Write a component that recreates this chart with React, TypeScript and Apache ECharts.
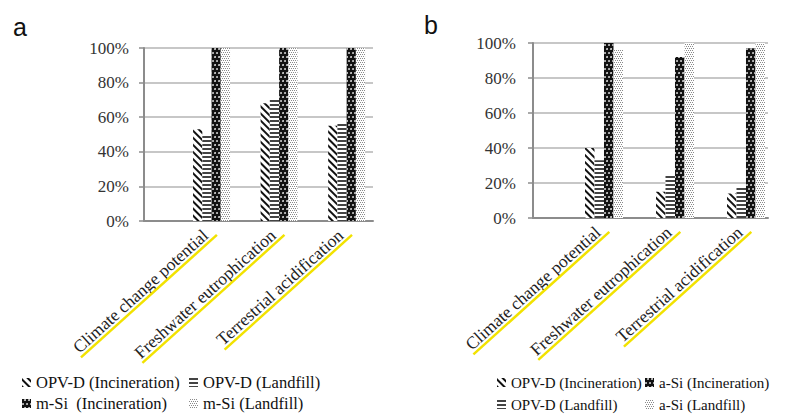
import React, { useEffect, useRef } from "react";
import * as echarts from "echarts";

const CATEGORIES = ["Climate change potential", "Freshwater eutrophication", "Terrestrial acidification"];
const Y_TICKS = [0, 20, 40, 60, 80, 100];

// Panel a (values in %)
const A_OPV_INC = [53, 68, 55];
const A_OPV_LAND = [50, 70, 56];
const A_MSI_INC = [100, 100, 100];
const A_MSI_LAND = [100, 100, 100];

// Panel b (values in %)
const B_OPV_INC = [40, 15, 14];
const B_OPV_LAND = [33, 25, 17.5];
const B_ASI_INC = [100, 92, 97];
const B_ASI_LAND = [96, 100, 100];

const N_OPV_INC = "OPV-D (Incineration)";
const N_OPV_LAND = "OPV-D (Landfill)";
const N_MSI_INC = "m-Si  (Incineration)";
const N_MSI_LAND = "m-Si (Landfill)";
const N_ASI_INC = "a-Si (Incineration)";
const N_ASI_LAND = "a-Si (Landfill)";

const SERIF = "Liberation Serif";
const LABEL_SIZE = 17.5;

const STYLE_DIAG = {
  color: "#ffffff",
  decal: { symbol: "rect", symbolSize: 1, color: "#111", backgroundColor: "#fff", dashArrayX: [1, 0], dashArrayY: [2, 2.5], rotation: Math.PI / 4 },
};
const STYLE_HORIZ = {
  color: "#ffffff",
  decal: { symbol: "rect", symbolSize: 1, color: "#444", backgroundColor: "#fff", dashArrayX: [1, 0], dashArrayY: [2, 1.5], rotation: 0 },
};
const STYLE_DARKDOT = {
  color: "#111",
  decal: { symbol: "circle", symbolSize: 0.9, color: "#e8e8e8", backgroundColor: "#111", dashArrayX: [[2, 2], [0, 2, 2, 0]], dashArrayY: [2, 1.5], rotation: 0 },
};
const STYLE_LIGHTDOT = {
  color: "#fff",
  decal: { symbol: "rect", symbolSize: 1, color: "#8a8a8a", backgroundColor: "#fff", dashArrayX: [[1, 1], [0, 1, 1, 0]], dashArrayY: [1, 1], rotation: 0 },
};

function measure(text: string, size: number): number {
  const c = document.createElement("canvas").getContext("2d");
  if (!c) return text.length * size * 0.45;
  c.font = `${size}px "${SERIF}"`;
  return c.measureText(text).width;
}

export default function App() {
  const ref = useRef<HTMLDivElement>(null);
  useEffect(() => {
    if (!ref.current) return;
    const chart = echarts.init(ref.current, null, { renderer: "svg" });

    const rich: any = {
      t: { fontFamily: SERIF, fontSize: LABEL_SIZE, color: "#222", lineHeight: 16, padding: [0, 7, 0, 0] },
    };
    CATEGORIES.forEach((c, i) => {
      rich["u" + i] = { width: measure(c, LABEL_SIZE) + 8, height: 2.5, lineHeight: 3, backgroundColor: "#f2e200" };
    });

    const xLabelFormatter = (v: number) => {
      const r = Math.round(v);
      if (Math.abs(v - r) > 1e-6 || r < 1 || r > CATEGORIES.length) return "";
      return `{t|${CATEGORIES[r - 1]}}\n{u${r - 1}|}`;
    };

    const toPts = (vals: number[]) => vals.map((v, i) => [i + 1, v]);

    const mkX = (gridIndex: number, max: number) => ({
      type: "value",
      gridIndex,
      min: 0,
      max,
      interval: 1,
      splitLine: { show: false },
      axisTick: { show: false },
      axisLine: { show: true, onZero: false, lineStyle: { color: "#8c8c8c", width: 2 } },
      axisLabel: { rotate: 42, margin: 8, formatter: xLabelFormatter, rich, hideOverlap: false, showMinLabel: true, showMaxLabel: true },
    });
    const mkY = (gridIndex: number, margin: number) => ({
      type: "value",
      gridIndex,
      min: 0,
      max: 100,
      interval: 20,
      axisLine: { show: true, lineStyle: { color: "#8c8c8c", width: 2 } },
      axisTick: { show: true, inside: false, length: 5, lineStyle: { color: "#8c8c8c", width: 1.5 } },
      splitLine: { show: true, lineStyle: { color: "#b4b4b4", width: 1.5 } },
      axisLabel: {
        margin,
        fontFamily: SERIF,
        fontSize: 17,
        color: "#333",
        formatter: (v: number) => (Y_TICKS.includes(v) ? `${v}%` : ""),
      },
    });

    const mkBar = (name: string, vals: number[], style: any, idx: number, width: number) => ({
      type: "bar",
      name,
      xAxisIndex: idx,
      yAxisIndex: idx,
      data: toPts(vals),
      barWidth: width,
      barGap: "0%",
      itemStyle: style,
      emphasis: { disabled: true },
    });

    const mkLegend = (left: number, top: number, size: number, gap: number, data: string[]) => ({
      orient: "vertical",
      left,
      top,
      icon: "rect",
      itemWidth: 9,
      itemHeight: 9,
      itemGap: gap,
      selectedMode: false,
      padding: 0,
      data,
      textStyle: { fontFamily: SERIF, fontSize: size, color: "#111" },
    });

    chart.setOption({
      animation: false,
      backgroundColor: "#ffffff",
      textStyle: { fontFamily: SERIF },
      title: [
        { text: "a", left: 13, top: 14, padding: 0, textStyle: { fontFamily: "Liberation Sans", fontSize: 25, fontWeight: "normal", color: "#111" } },
        { text: "b", left: 424, top: 12, padding: 0, textStyle: { fontFamily: "Liberation Sans", fontSize: 25, fontWeight: "normal", color: "#111" } },
      ],
      grid: [
        { left: 144, top: 48, width: 229, height: 173 },
        { left: 533, top: 43, width: 235, height: 175 },
      ],
      xAxis: [mkX(0, 3.39), mkX(1, 3.31)],
      yAxis: [mkY(0, 15), mkY(1, 17)],
      legend: [
        mkLegend(22, 374, 16.5, 4, [N_OPV_INC, N_MSI_INC]),
        mkLegend(189, 374, 16.5, 4, [N_OPV_LAND, N_MSI_LAND]),
        mkLegend(497, 375, 15, 7, [N_OPV_INC, N_OPV_LAND]),
        mkLegend(645, 375, 15, 7, [N_ASI_INC, N_ASI_LAND]),
      ],
      series: [
        mkBar(N_OPV_INC, A_OPV_INC, STYLE_DIAG, 0, 9.25),
        mkBar(N_OPV_LAND, A_OPV_LAND, STYLE_HORIZ, 0, 9.25),
        mkBar(N_MSI_INC, A_MSI_INC, STYLE_DARKDOT, 0, 9.25),
        mkBar(N_MSI_LAND, A_MSI_LAND, STYLE_LIGHTDOT, 0, 9.25),
        mkBar(N_OPV_INC, B_OPV_INC, STYLE_DIAG, 1, 9.5),
        mkBar(N_OPV_LAND, B_OPV_LAND, STYLE_HORIZ, 1, 9.5),
        mkBar(N_ASI_INC, B_ASI_INC, STYLE_DARKDOT, 1, 9.5),
        mkBar(N_ASI_LAND, B_ASI_LAND, STYLE_LIGHTDOT, 1, 9.5),
      ],
    });
    return () => chart.dispose();
  }, []);
  return <div ref={ref} style={{ position: "fixed", left: 0, top: 0, width: 796, height: 416 }} />;
}
